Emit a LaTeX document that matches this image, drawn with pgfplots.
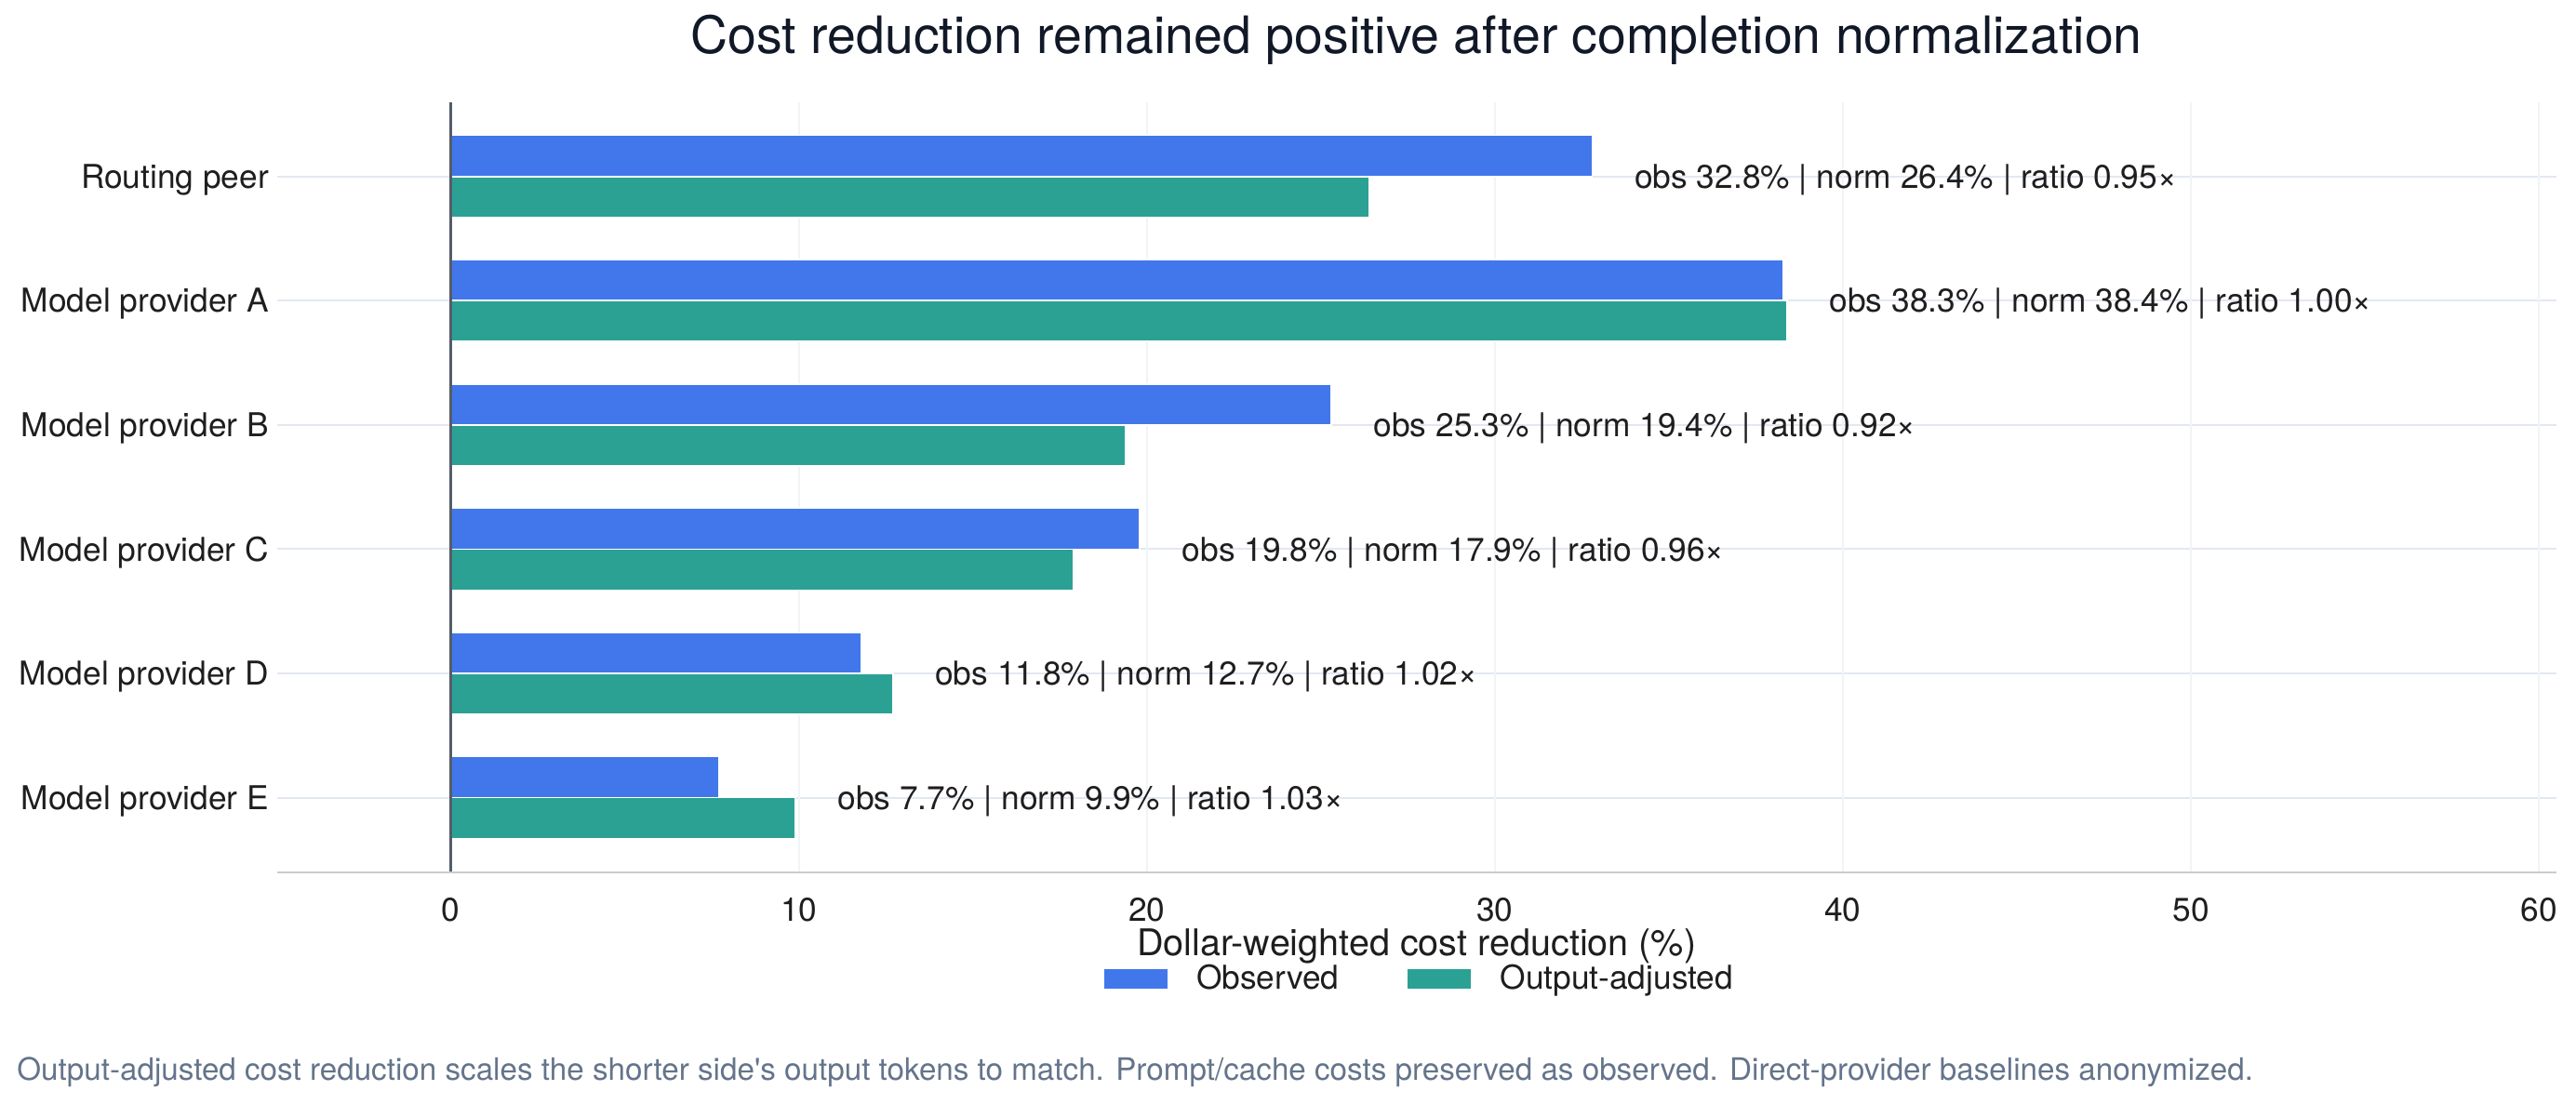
\documentclass[border=0pt]{standalone}
\usepackage{fontspec}
\setmainfont{TeX Gyre Heros}
\newfontfamily\notefont{TeX Gyre Heros}
\usepackage{pgfplots}
\pgfplotsset{compat=1.18}
\definecolor{obsblue}{RGB}{65,119,234}
\definecolor{adjteal}{RGB}{43,161,148}
\definecolor{gridh}{RGB}{226,232,240}
\definecolor{gridv}{RGB}{241,244,247}
\definecolor{zeroline}{RGB}{85,92,106}
\definecolor{basecol}{RGB}{204,204,204}
\definecolor{titlecol}{RGB}{17,24,39}
\definecolor{textcol}{RGB}{30,30,30}
\definecolor{notecol}{RGB}{100,116,139}
\begin{document}
\begin{tikzpicture}
\useasboundingbox (0,0) rectangle (784pt,335.8pt);
\begin{axis}[
  at={(84.25pt,70.3pt)}, anchor=south west,
  scale only axis, width=693.75pt, height=234.5pt,
  xmin=-5, xmax=60.5, ymin=-0.6, ymax=5.6, y dir=reverse,
  clip=false,
  xbar, bar width=0.33,
  axis line style={draw=none},
  major tick length=0pt,
  tick style={draw=none},
  xtick={0,10,20,30,40,50,60},
  ytick={0,1,2,3,4,5},
  yticklabels={Routing peer, Model provider A, Model provider B, Model provider C, Model provider D, Model provider E},
  /pgf/number format/assume math mode=true,
  tick label style={font=\fontsize{10}{12}\selectfont, text=textcol, inner sep=0pt},
  xticklabel style={anchor=base, yshift=-15pt},
  yticklabel style={anchor=base east, xshift=-2.25pt, yshift=-3.6pt},
  ymajorgrids=true,
  major grid style={draw=gridh, line width=0.6pt},
  extra x ticks={0,10,20,30,40,50,60},
  extra x tick labels={},
  extra x tick style={xmajorgrids=true, ymajorgrids=false, major grid style={draw=gridv, line width=0.5pt}},
  xlabel={Dollar-weighted cost reduction (\%)},
  xlabel style={at={(axis description cs:0.5,-0.1087)}, anchor=base, font=\fontsize{11.2}{13}\selectfont, text=textcol, inner sep=0pt},
  every axis title shift=0pt,
  title={Cost reduction remained positive after completion normalization},
  title style={at={(axis description cs:0.5,1.0623)}, anchor=base, font=\fontsize{15.7}{18}\selectfont, text=titlecol, inner sep=0pt},
  legend columns=2,
  legend style={at={(axis description cs:0.3629,-0.1385)}, anchor=west, draw=none, fill=none, inner sep=0pt, outer sep=0pt, font=\fontsize{10}{12}\selectfont, text=textcol, nodes={inner sep=0pt}, /tikz/every odd column/.append style={column sep=8.9pt}, /tikz/every even column/.append style={column sep=20.9pt}},
  legend image code/.code={\fill[#1, draw=none] (0pt,-3.05pt) rectangle (19.2pt,3.05pt);},
]
\addplot[fill=obsblue, draw=white, line width=0.5pt, bar shift=-0.165]
  coordinates {(32.8,0) (38.3,1) (25.3,2) (19.8,3) (11.8,4) (7.7,5)};
\addlegendentry{Observed}
\addplot[fill=adjteal, draw=white, line width=0.5pt, bar shift=0.165]
  coordinates {(26.4,0) (38.4,1) (19.4,2) (17.9,3) (12.7,4) (9.9,5)};
\addlegendentry{Output-adjusted}
\addplot[draw=none, fill=none, bar shift=0pt, forget plot,
  nodes near coords, point meta=explicit symbolic,
  nodes near coords style={anchor=base west, yshift=-3.6pt, inner sep=0pt, font=\fontsize{10}{12}\selectfont, text=textcol}]
  coordinates {
    (34.0,0) [obs 32.8\% | norm 26.4\% | ratio 0.95×]
    (39.6,1) [obs 38.3\% | norm 38.4\% | ratio 1.00×]
    (26.5,2) [obs 25.3\% | norm 19.4\% | ratio 0.92×]
    (21.0,3) [obs 19.8\% | norm 17.9\% | ratio 0.96×]
    (13.9,4) [obs 11.8\% | norm 12.7\% | ratio 1.02×]
    (11.1,5) [obs 7.7\% | norm 9.9\% | ratio 1.03×]
  };
\draw[zeroline, line width=0.95pt] (axis cs:0,-0.6) -- (axis cs:0,5.6);
\draw[basecol, line width=0.6pt] (axis description cs:0,0) -- (axis description cs:1,0);
\end{axis}
\node[anchor=base west, inner sep=0pt, font=\notefont\fontsize{9.4}{11}\selectfont, text=notecol] at (5pt,6.9pt) {Output-adjusted cost reduction scales the shorter side's output tokens to match. Prompt/cache costs preserved as observed. Direct-provider baselines anonymized.};
\end{tikzpicture}
\end{document}
